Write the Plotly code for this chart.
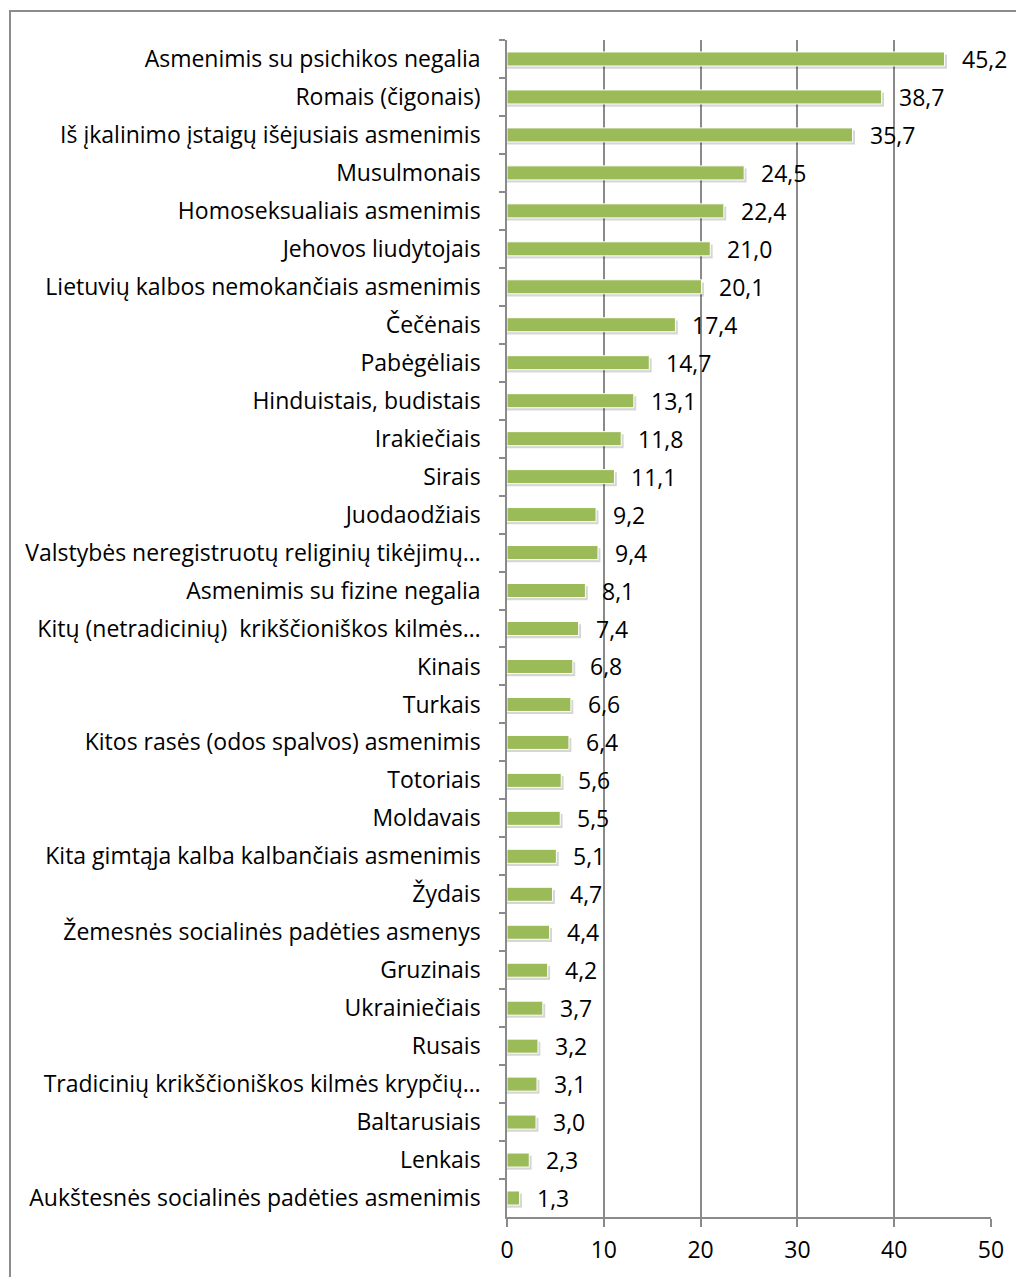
import plotly.graph_objects as go

categories = [
    "Asmenimis su psichikos negalia",
    "Romais (čigonais)",
    "Iš įkalinimo įstaigų išėjusiais asmenimis",
    "Musulmonais",
    "Homoseksualiais asmenimis",
    "Jehovos liudytojais",
    "Lietuvių kalbos nemokančiais asmenimis",
    "Čečėnais",
    "Pabėgėliais",
    "Hinduistais, budistais",
    "Irakiečiais",
    "Sirais",
    "Juodaodžiais",
    "Valstybės neregistruotų religinių tikėjimų…",
    "Asmenimis su fizine negalia",
    "Kitų (netradicinių)  krikščioniškos kilmės…",
    "Kinais",
    "Turkais",
    "Kitos rasės (odos spalvos) asmenimis",
    "Totoriais",
    "Moldavais",
    "Kita gimtąja kalba kalbančiais asmenimis",
    "Žydais",
    "Žemesnės socialinės padėties asmenys",
    "Gruzinais",
    "Ukrainiečiais",
    "Rusais",
    "Tradicinių krikščioniškos kilmės krypčių…",
    "Baltarusiais",
    "Lenkais",
    "Aukštesnės socialinės padėties asmenimis",
]
values = [45.2, 38.7, 35.7, 24.5, 22.4, 21.0, 20.1, 17.4, 14.7, 13.1, 11.8, 11.1,
          9.2, 9.4, 8.1, 7.4, 6.8, 6.6, 6.4, 5.6, 5.5, 5.1, 4.7, 4.4, 4.2, 3.7,
          3.2, 3.1, 3.0, 2.3, 1.3]
x_ticks = [0, 10, 20, 30, 40, 50]

FONT = "Open Sans"
FS = 23
OFF = 8  # default page body margin
W, H = 1024 - OFF, 1277 - OFF
L, T = 507 - OFF, 40 - OFF
R = W - (991 - OFF)
B = H - (1217 - OFF)
pw, ph = W - L - R, H - T - B

labels = [f"{v:.1f}".replace(".", ",") for v in values]

fig = go.Figure()
# soft shadow
fig.add_trace(go.Bar(
    y=categories, x=[v + 0.25 for v in values], orientation="h",
    width=0.37, offset=-0.185 + 0.07,
    marker=dict(color="rgba(0,0,0,0.16)", line=dict(width=0)),
    hoverinfo="skip", showlegend=False,
))
fig.add_trace(go.Bar(
    y=categories, x=values, orientation="h",
    width=0.37, offset=-0.185,
    marker=dict(color="#9BBB59", line=dict(color="white", width=1)),
    showlegend=False,
))

for c, v, t in zip(categories, values, labels):
    fig.add_annotation(x=v, y=c, text=t, showarrow=False, xanchor="left",
                       yanchor="middle", xshift=15, yshift=0,
                       font=dict(family=FONT, size=FS, color="black"))

fig.update_layout(
    width=W, height=H,
    margin=dict(l=L, r=R, t=T, b=B),
    paper_bgcolor="white", plot_bgcolor="white",
    barmode="overlay",
    font=dict(family=FONT, size=FS, color="black"),
    shapes=[dict(type="rect", xref="paper", yref="paper",
                 x0=(10 - OFF - L) / pw, x1=(1040 - OFF - L) / pw,
                 y0=-(1300 - (H - B)) / ph, y1=1 + (T - (11 - OFF)) / ph,
                 line=dict(color="#8c8c8c", width=2), layer="below")],
)
fig.update_xaxes(
    range=[0, 50], tickvals=x_ticks, ticktext=[str(t) for t in x_ticks],
    showgrid=True, gridcolor="#8a8a8a", gridwidth=1.5,
    showline=True, linecolor="#8a8a8a", linewidth=1.5,
    ticks="outside", ticklen=8, tickcolor="#8a8a8a", tickwidth=1.5,
    zeroline=False, tickfont=dict(family=FONT, size=FS), ticklabelstandoff=4,
)
fig.update_yaxes(
    autorange="reversed", categoryorder="array", categoryarray=categories,
    showline=True, linecolor="#8a8a8a", linewidth=1.5,
    ticks="outside", ticklen=6, tickcolor="#8a8a8a", tickwidth=1.5,
    tickson="boundaries", showgrid=False, ticklabelstandoff=20,
    tickfont=dict(family=FONT, size=FS),
)

fig.write_html("out.html")
